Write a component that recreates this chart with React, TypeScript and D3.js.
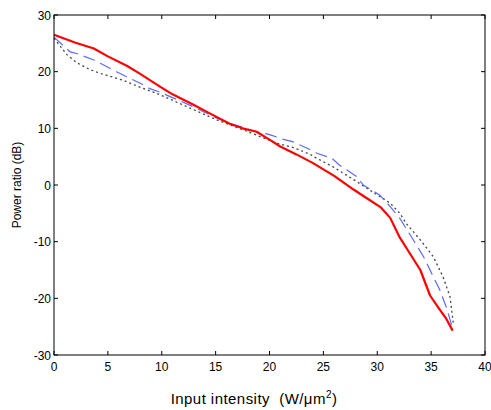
import React from "react";
import * as d3 from "d3";

const redX = [0, 1, 2, 3.7, 5, 6.8, 8, 9.8, 11, 12.9, 14.5, 16.3, 17.5, 18.8, 20, 21, 22.5, 24, 26, 27.8, 29, 30.3, 31.2, 32.1, 33, 34, 34.9, 35.8, 36.4, 37];
const redY = [26.5, 25.8, 25.1, 24.1, 22.7, 21.0, 19.6, 17.4, 16.0, 14.2, 12.6, 10.8, 10.0, 9.4, 8.0, 6.8, 5.4, 3.9, 1.6, -0.8, -2.3, -3.9, -5.8, -9.3, -12.0, -15.0, -19.5, -22.0, -23.6, -25.7];

const blueX = [0, 1.5, 2.1, 3.65, 4.3, 5.8, 6.75, 8.0, 8.9, 9.8, 12.6, 15.1, 16.3, 18.8, 20.0, 21.3, 22.2, 23.5, 24.4, 25.8, 26.5, 28.1, 28.7, 30.25, 31.2, 32.1, 33.35, 34.3, 35.2, 35.8, 36.4, 36.9];
const blueY = [26.1, 23.5, 23.2, 22.1, 21.5, 20.0, 19.1, 17.95, 17.0, 16.4, 14.1, 11.8, 10.9, 9.4, 8.9, 8.05, 7.6, 6.5, 5.6, 4.7, 3.5, 1.5, 0.0, -1.8, -3.8, -5.9, -9.7, -12.65, -16.2, -18.5, -21.5, -24.7];

const greyX = [0, 1.2, 2.1, 3.3, 4.3, 6.4, 7.4, 8.9, 9.5, 12, 15.1, 17.6, 20.7, 22.2, 23.8, 24.1, 25.9, 28.1, 29.3, 31.2, 32.1, 32.7, 34.0, 35.2, 36.1, 36.75, 37.06];
const greyY = [25.9, 23.0, 21.6, 20.4, 19.7, 18.5, 17.7, 16.6, 16.2, 14.1, 11.5, 9.7, 7.35, 6.6, 5.4, 5.0, 3.2, 0.6, -0.9, -3.2, -5.0, -6.8, -9.7, -12.65, -16.2, -19.7, -24.4];

const xTicks = [0, 5, 10, 15, 20, 25, 30, 35, 40];
const yTicks = [-30, -20, -10, 0, 10, 20, 30];

const W = 491, H = 410;
const L = 54, R = 485, T = 15, B = 355;

export default function App() {
  const x = d3.scaleLinear().domain([0, 40]).range([L, R]);
  const y = d3.scaleLinear().domain([-30, 30]).range([B, T]);
  const mk = (xs: number[], ys: number[]) =>
    d3.line<number>().x((_, i) => x(xs[i])).y((_, i) => y(ys[i]))(xs) || "";
  const font = "'Liberation Sans', Arial, sans-serif";
  return (
    <svg width={W} height={H} style={{ position: "absolute", left: 0, top: 0, background: "#fff" }}>
      <rect x={0} y={0} width={W} height={H} fill="#fff" />
      <path d={mk(greyX, greyY)} fill="none" stroke="#444" strokeWidth={1.3} strokeDasharray="2,3" />
      <path d={mk(blueX, blueY)} fill="none" stroke="#5a6cff" strokeWidth={1.2} strokeDasharray="12,6" />
      <path d={mk(redX, redY)} fill="none" stroke="#ff0000" strokeWidth={2.2} strokeLinejoin="round" />
      <rect x={L} y={T} width={R - L} height={B - T} fill="none" stroke="#000" strokeWidth={1} />
      {xTicks.map((t) => (
        <g key={"x" + t}>
          <line x1={x(t)} x2={x(t)} y1={B} y2={B - 4} stroke="#000" />
          <line x1={x(t)} x2={x(t)} y1={T} y2={T + 4} stroke="#000" />
          <text x={x(t)} y={371} textAnchor="middle" fontSize={12} fontFamily={font} fill="#000">{t}</text>
        </g>
      ))}
      {yTicks.map((t) => (
        <g key={"y" + t}>
          <line x1={L} x2={L + 4} y1={y(t)} y2={y(t)} stroke="#000" />
          <line x1={R} x2={R - 4} y1={y(t)} y2={y(t)} stroke="#000" />
          <text x={L - 3} y={y(t) + 4.5} textAnchor="end" fontSize={12} fontFamily={font} fill="#000">{t}</text>
        </g>
      ))}
      <text x={254} y={404} textAnchor="middle" fontSize={15} letterSpacing={0.45} fontFamily={font} fill="#000" style={{ whiteSpace: "pre" }}>
        {"Input intensity  (W/μm"}<tspan dy={-6} fontSize={10}>2</tspan><tspan dy={6}>)</tspan>
      </text>
      <text transform={`translate(21,${(T + B) / 2}) rotate(-90)`} textAnchor="middle" fontSize={12} fontFamily={font} fill="#000">
        Power ratio (dB)
      </text>
    </svg>
  );
}
